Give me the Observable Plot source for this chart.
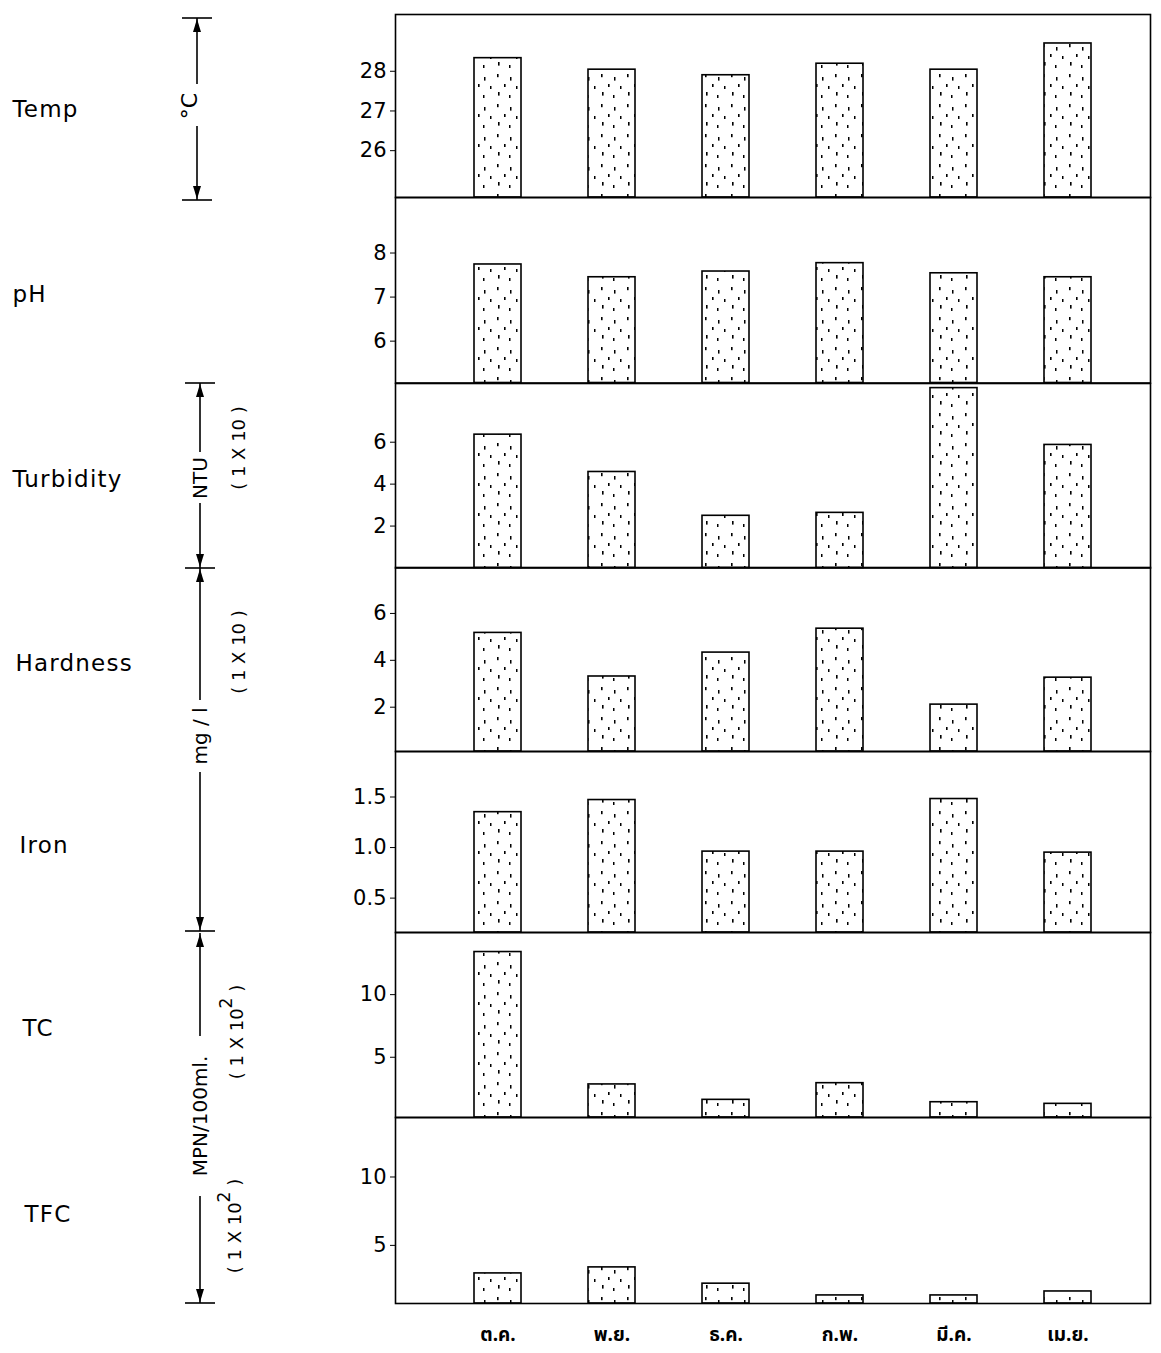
<!DOCTYPE html>
<html><head><meta charset="utf-8">
<script src="https://cdn.jsdelivr.net/npm/d3@7"></script>
<script src="https://cdn.jsdelivr.net/npm/@observablehq/plot@0.6"></script>
<style>
body{margin:0;background:#fff;}
#wrap{position:relative;width:1161px;height:1353px;background:#fff;}
</style></head><body><div id="wrap"></div>
<script>
// ---- data ----
const months = ["ต.ค.", "พ.ย.", "ธ.ค.", "ก.พ.", "มี.ค.", "เม.ย."];
const panelNames = ["Temp", "pH", "Turbidity", "Hardness", "Iron", "TC", "TFC"];
const tempValues = [28.33, 28.04, 27.9, 28.19, 28.04, 28.7];
const phValues = [7.74, 7.45, 7.58, 7.77, 7.54, 7.45];
const turbidityValues = [6.36, 4.58, 2.49, 2.63, 8.58, 5.87];
const hardnessValues = [5.17, 3.31, 4.33, 5.35, 2.11, 3.26];
const ironValues = [1.35, 1.47, 0.96, 0.96, 1.48, 0.95];
const tcValues = [13.4, 2.83, 1.6, 2.93, 1.41, 1.28];
const tfcValues = [2.95, 3.39, 2.2, 1.34, 1.34, 1.63];
const tempTicks = [26, 27, 28];
const phTicks = [6, 7, 8];
const turbidityTicks = [2, 4, 6];
const hardnessTicks = [2, 4, 6];
const ironTicks = [0.5, 1.0, 1.5];
const tcTicks = [5, 10];
const tfcTicks = [5, 10];
const tempDomain = [24.82, 29.43];
const phDomain = [5.05, 9.26];
const turbidityDomain = [0, 8.8];
const hardnessDomain = [0.11, 7.96];
const ironDomain = [0.16, 1.95];
const tcDomain = [0.19, 14.96];
const tfcDomain = [0.75, 14.35];

// ---- layout ----
const W = 1161, LEFT = 395, RIGHT = 1150;
const bounds = [14, 197, 382.5, 567, 751, 932, 1117, 1303];
const labelX = [12, 12, 12, 15, 19, 22, 24];
const FONT = "'DejaVu Sans', 'Liberation Sans', sans-serif";
const THAI = "'Noto Sans Thai', 'Loma', 'Garuda', 'Norasi', 'Tlwg Typo', 'DejaVu Sans', sans-serif";

const panels = [
  {values: tempValues, ticks: tempTicks, domain: tempDomain, fmt: d3.format("d")},
  {values: phValues, ticks: phTicks, domain: phDomain, fmt: d3.format("d")},
  {values: turbidityValues, ticks: turbidityTicks, domain: turbidityDomain, fmt: d3.format("d")},
  {values: hardnessValues, ticks: hardnessTicks, domain: hardnessDomain, fmt: d3.format("d")},
  {values: ironValues, ticks: ironTicks, domain: ironDomain, fmt: d3.format(".1f")},
  {values: tcValues, ticks: tcTicks, domain: tcDomain, fmt: d3.format("d")},
  {values: tfcValues, ticks: tfcTicks, domain: tfcDomain, fmt: d3.format("d")}
].map((p, i) => ({...p, name: panelNames[i]}));

const wrap = document.getElementById("wrap");

// stipple pattern
const defsSvg = d3.select(wrap).append("svg").attr("width", 0).attr("height", 0)
  .style("position", "absolute").style("left", 0).style("top", 0);
const pat = defsSvg.append("defs").append("pattern").attr("id", "stipple")
  .attr("patternUnits", "userSpaceOnUse").attr("width", 26).attr("height", 30);
pat.append("rect").attr("width", 26).attr("height", 30).attr("fill", "white");
[[3,2,1.6,3.2],[16,5,1.5,3.6],[10,12,1.6,3],[22,14,1.5,3],[4,20,1.6,3.6],[15,23,1.5,3]]
  .forEach(([x, y, w, h]) => pat.append("rect").attr("x", x).attr("y", y).attr("width", w).attr("height", h).attr("fill", "black"));

panels.forEach((p, i) => {
  const pad = 2;
  const last = i === panels.length - 1;
  const h = bounds[i + 1] - bounds[i];
  const mb = last ? 60 : pad;
  const data = months.map((m, j) => ({month: m, value: p.values[j]}));
  const marks = [
    Plot.axisY({ticks: p.ticks, tickFormat: p.fmt, tickSize: 5, tickPadding: 4, fontSize: 21, label: null}),
    Plot.barY(data, {x: "month", y1: p.domain[0], y2: "value", fill: "url(#stipple)", stroke: "black", strokeWidth: 1.6}),
    Plot.frame({stroke: "black", strokeWidth: 1.6}),
    Plot.text([p.name], {text: d => d, frameAnchor: "left", dx: labelX[i] - LEFT, dy: 4, textAnchor: "start", fontSize: 23, fill: "black"})
  ];
  if (last) marks.push(Plot.axisX({tickSize: 0, tickPadding: 24, fontSize: 19, fontWeight: "bold", fontFamily: THAI, label: null}));
  const chart = Plot.plot({
    width: W, height: h + pad + mb,
    marginLeft: LEFT, marginRight: W - RIGHT, marginTop: pad, marginBottom: mb,
    style: {background: "transparent", overflow: "visible", fontFamily: FONT, color: "black"},
    x: {type: "band", domain: months, paddingInner: 0.59, paddingOuter: 0.578, align: 0.57, axis: last ? undefined : null},
    y: {domain: p.domain},
    marks
  });
  chart.style.position = "absolute";
  chart.style.left = "0px";
  chart.style.top = (bounds[i] - pad) + "px";
  d3.select(chart).selectAll("g[aria-label='text'] text").style("letter-spacing", "1.2px");
  wrap.appendChild(chart);
});

// ---- unit annotations (left brackets) ----
const ov = d3.select(wrap).append("svg").attr("width", W).attr("height", 1353)
  .style("position", "absolute").style("left", 0).style("top", 0).style("pointer-events", "none");
function bracket(x, top, bottom, gap, skipTop) {
  const g = ov.append("g").attr("stroke", "black").attr("stroke-width", 1.6).attr("fill", "none");
  g.append("line").attr("x1", x).attr("x2", x).attr("y1", top).attr("y2", gap[0]);
  g.append("line").attr("x1", x).attr("x2", x).attr("y1", gap[1]).attr("y2", bottom);
  if (!skipTop) g.append("line").attr("x1", x - 15).attr("x2", x + 15).attr("y1", top).attr("y2", top);
  g.append("line").attr("x1", x - 15).attr("x2", x + 15).attr("y1", bottom).attr("y2", bottom);
  ov.append("path").attr("d", `M${x},${top + 1} L${x - 4},${top + 14} L${x + 4},${top + 14} Z`).attr("fill", "black");
  ov.append("path").attr("d", `M${x},${bottom - 1} L${x - 4},${bottom - 14} L${x + 4},${bottom - 14} Z`).attr("fill", "black");
}
function vtext(x, y, str, size, sup) {
  const t = ov.append("text").attr("transform", `translate(${x},${y}) rotate(-90)`)
    .attr("text-anchor", "middle").attr("dominant-baseline", "central")
    .attr("font-family", FONT).attr("font-size", size).attr("fill", "black");
  if (sup) {
    t.append("tspan").text(str[0]);
    t.append("tspan").attr("baseline-shift", "super").attr("font-size", size * 0.95).text(sup);
    t.append("tspan").text(str[1]);
  } else t.text(str);
}
bracket(197, 18, 200, [84, 126]);
bracket(200, 383, 568, [452, 503]);
bracket(200, 568, 931, [700, 772], true);
bracket(200, 933, 1303, [1036, 1196], true);
vtext(189, 106, "°C", 22);
vtext(200, 478, "NTU", 20);
vtext(238, 448, "( 1 X 10 )", 18);
vtext(238, 652, "( 1 X 10 )", 18);
vtext(200, 736, "mg / l", 20);
vtext(200, 1116, "MPN/100ml.", 20);
vtext(236, 1032, ["( 1 X 10", " )"], 18, "2");
vtext(234, 1226, ["( 1 X 10", " )"], 18, "2");
</script>
</body></html>
